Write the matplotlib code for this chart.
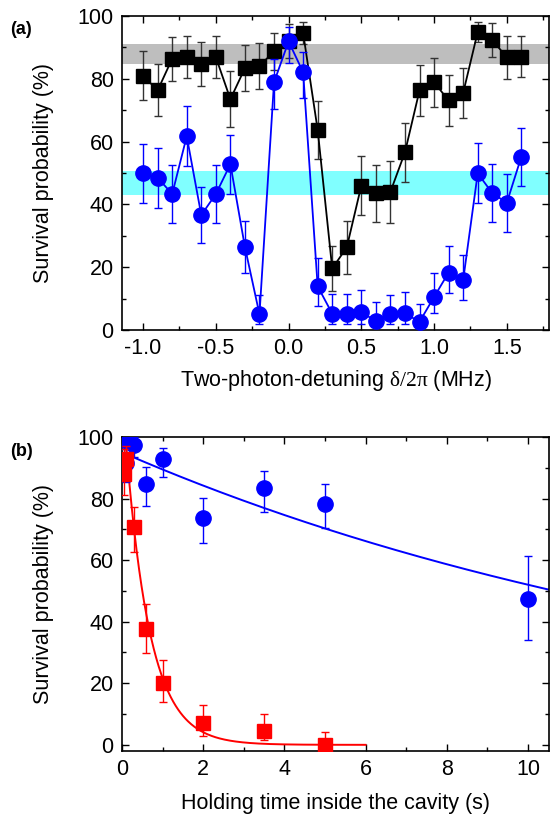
import numpy as np
import matplotlib
matplotlib.use("Agg")
import matplotlib.pyplot as plt
from matplotlib.ticker import MultipleLocator

plt.rcParams['font.family'] = ['Liberation Sans', 'DejaVu Sans']
plt.rcParams['mathtext.fontset'] = 'custom'
plt.rcParams['mathtext.rm'] = 'Liberation Serif'

# ---------------- panel (a) data ----------------
detuning = [-1.0, -0.9, -0.8, -0.7, -0.6, -0.5, -0.4, -0.3, -0.2, -0.1, 0.0,
            0.1, 0.2, 0.3, 0.4, 0.5, 0.6, 0.7, 0.8, 0.9, 1.0, 1.1, 1.2, 1.3,
            1.4, 1.5, 1.6]
black_surv = [81, 76.3, 86.4, 86.9, 84.7, 86.9, 73.5, 83.4, 84.1, 88.7, 92,
              94.6, 63.7, 19.6, 26.3, 46, 43.6, 44, 56.6, 76.3, 78.9, 73.1,
              75.5, 94.9, 92.4, 86.8, 87.1]
black_err = [7.8, 8.3, 7, 6.6, 7, 6.6, 8.9, 7.4, 7.2, 6, 5.5,
             3.4, 9.3, 7.3, 8.4, 9.4, 9.1, 9.8, 9.4, 8.2, 7.8, 8.1,
             7.9, 3.2, 5.5, 6.8, 6.6]
blue_surv = [49.9, 48.5, 43.3, 61.7, 36.6, 43.3, 52.8, 26.4, 5, 78.9, 91.9,
             82.1, 13.9, 5.2, 5.2, 5.7, 2.8, 5.2, 5.3, 2.6, 10.5, 18.3,
             15.9, 49.9, 43.6, 40.5, 55.2]
blue_err_lo = [9.3, 9.5, 9.3, 9.6, 9, 9.3, 9.4, 8.3, 3.2, 8.5, 6.9,
               8.3, 6.1, 3.4, 3.4, 3.9, 1.6, 3.2, 3.3, 1.1, 5, 6.5,
               6.2, 9.5, 9.2, 9.3, 9.2]
blue_err_hi = [9.3, 9.5, 9.3, 9.6, 9, 9.3, 9.4, 8.3, 6, 7.4, 4.6,
               6.3, 9.1, 6.4, 6.2, 6.9, 6.1, 6, 6.7, 5.8, 7.5, 8.6,
               8, 9.5, 9.2, 9.3, 9.2]
gray_band = (84.8, 91.1)
cyan_band = (43.0, 50.5)

# ---------------- panel (b) data ----------------
t_blue = [0.05, 0.1, 0.3, 0.6, 1.0, 2.0, 3.5, 5.0, 10.0]
surv_blue = [99, 91.5, 97.5, 84.8, 92.9, 73.6, 83.4, 78.2, 47.3]
blue_b_lo = [3, 6, 4, 7.2, 6, 8.1, 7.8, 7.6, 13.3]
blue_b_hi = [3, 6, 2.5, 5.3, 3.5, 6.7, 5.7, 6.4, 14]

t_red = [0.05, 0.1, 0.3, 0.6, 1.0, 2.0, 3.5, 5.0]
surv_red = [88, 93, 70.8, 37.5, 20, 7, 4.6, 0]
red_lo = [7, 6, 8.3, 7.7, 6.2, 4.1, 3, 0]
red_hi = [8, 4, 6.5, 8.1, 7.7, 6.1, 5.4, 4.3]

# exponential fit parameters (amplitude %, lifetime s)
fit_blue = (95.0, 16.6)
fit_red = (115.0, 0.6)

BLUE = '#0000ff'
RED = '#ff0000'
FS = 15.5

fig = plt.figure(figsize=(5.5, 8.14), dpi=100)
ax1 = fig.add_axes([122/550, 1-330/814, 427/550, 314/814])
ax2 = fig.add_axes([122/550, 1-751/814, 427/550, 314/814])


def style_axes(ax):
    ax.tick_params(which='both', direction='in', top=True, right=True,
                   labelsize=FS, width=1, pad=6)
    ax.tick_params(which='major', length=5)
    ax.tick_params(which='minor', length=3)
    for s in ax.spines.values():
        s.set_linewidth(1.2)


# ----- (a) -----
ax1.axhspan(*gray_band, color='#bebebe', lw=0, zorder=0)
ax1.axhspan(*cyan_band, color='#80ffff', lw=0, zorder=0)
ax1.errorbar(detuning, black_surv, yerr=black_err, fmt='none', ecolor='#333333',
             elinewidth=1, capsize=3, capthick=1, zorder=2)
ax1.plot(detuning, black_surv, '-', color='black', lw=1.3, marker='s',
         ms=10, mfc='black', mec='black', zorder=3)
ax1.errorbar(detuning, blue_surv, yerr=[blue_err_lo, blue_err_hi], fmt='none',
             ecolor=BLUE, elinewidth=1, capsize=3, capthick=1, zorder=4)
ax1.plot(detuning, blue_surv, '-', color=BLUE, lw=1.3, marker='o',
         ms=11, mfc=BLUE, mec=BLUE, zorder=5)
ax1.set_xlim(-1.145, 1.79)
ax1.set_ylim(0, 100)
ax1.xaxis.set_major_locator(MultipleLocator(0.5))
ax1.xaxis.set_minor_locator(MultipleLocator(0.25))
ax1.yaxis.set_major_locator(MultipleLocator(20))
ax1.yaxis.set_minor_locator(MultipleLocator(10))
ax1.xaxis.set_major_formatter(plt.FuncFormatter(lambda v, p: f'{v:.1f}'))
style_axes(ax1)
ax1.set_xlabel(r'Two-photon-detuning $\mathrm{\delta/2\pi}$ (MHz)', fontsize=FS, labelpad=6)
ax1.set_ylabel('Survival probability (%)', fontsize=FS, labelpad=17)

# ----- (b) -----
tt_b = np.linspace(0, 10.5, 200)
tt_r = np.linspace(0, 6, 300)
ax2.plot(tt_b, fit_blue[0] * np.exp(-tt_b / fit_blue[1]), color=BLUE, lw=1.4, zorder=2)
ax2.plot(tt_r, fit_red[0] * np.exp(-tt_r / fit_red[1]), color=RED, lw=1.4, zorder=3)
ax2.errorbar(t_blue, surv_blue, yerr=[blue_b_lo, blue_b_hi], fmt='o', color=BLUE,
             ms=11, elinewidth=1, capsize=3, capthick=1, zorder=4)
ax2.errorbar(t_red, surv_red, yerr=[red_lo, red_hi], fmt='s', color=RED,
             ms=10, elinewidth=1, capsize=3, capthick=1, zorder=5)
ax2.set_xlim(0, 10.52)
ax2.set_ylim(-2, 100)
ax2.xaxis.set_major_locator(MultipleLocator(2))
ax2.xaxis.set_minor_locator(MultipleLocator(1))
ax2.yaxis.set_major_locator(MultipleLocator(20))
ax2.yaxis.set_minor_locator(MultipleLocator(10))
style_axes(ax2)
ax2.set_xlabel('Holding time inside the cavity (s)', fontsize=FS, labelpad=9)
ax2.set_ylabel('Survival probability (%)', fontsize=FS, labelpad=17)

fig.text(10/550, 1-30/814, '(a)', fontsize=13, fontweight='bold', va='center')
fig.text(10/550, 1-451/814, '(b)', fontsize=13, fontweight='bold', va='center')

fig.savefig('out.png', dpi=100)
